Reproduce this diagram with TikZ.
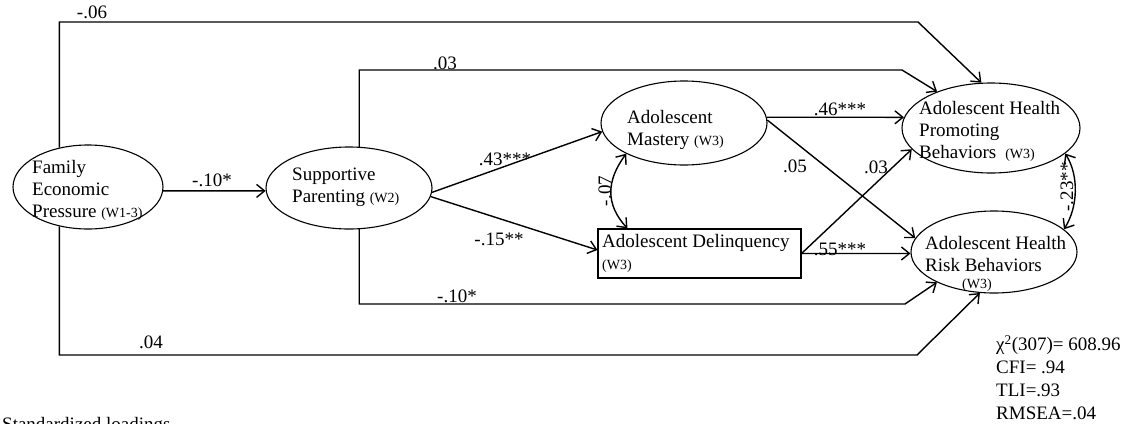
\documentclass[tikz,border=0pt]{standalone}
\usepackage{fontspec}
\setmainfont{Liberation Serif}
\usetikzlibrary{shapes.geometric,arrows.meta}
\newcommand\wlabel[1]{{\fontsize{14}{16}\selectfont(#1)}}
\begin{document}
\begin{tikzpicture}[x=1pt,y=-1pt,
  latent/.style={ellipse,draw,line width=1.1pt,inner sep=0pt},
  observed/.style={rectangle,draw,line width=1.1pt,inner sep=0pt},
  path/.style={line width=1.4pt,-{Straight Barb[length=8pt,width=13pt]}},
  cov/.style={line width=1.4pt,{Straight Barb[length=8pt,width=13pt]}-{Straight Barb[length=8pt,width=13pt]}},
  lbl/.style={inner sep=0pt,font=\fontsize{19}{22}\selectfont},
  txt/.style={inner sep=0pt,align=left,anchor=west,font=\fontsize{19}{22}\selectfont},
]
\useasboundingbox (0,0) rectangle (1132,423);

% constructs
\node[latent,minimum width=150pt,minimum height=84pt] (fep) at (88,187) {};
\node[latent,minimum width=166pt,minimum height=82pt] (sp) at (349,188) {};
\node[latent,minimum width=166pt,minimum height=84pt] (mas) at (684,123) {};
\node[observed,minimum width=203pt,minimum height=49pt] (del) at (699.5,253.5) {};
\node[latent,minimum width=178pt,minimum height=90pt] (hp) at (991,128) {};
\node[latent,minimum width=166pt,minimum height=82pt] (rb) at (994,252) {};

% construct names
\node[txt] (tfep) at (32,190) {Family\\Economic\\Pressure \wlabel{W1-3}};
\node[txt] (tsp) at (292,187) {Supportive\\Parenting \wlabel{W2}};
\node[txt] (tmas) at (627,130) {Adolescent\\Mastery \wlabel{W3}};
\node[txt] (tdel) at (602,243) {Adolescent Delinquency};
\node[txt] (tdelw) at (602,266) {\wlabel{W3}};
\node[txt] (thp) at (919,131) {Adolescent Health\\Promoting\\Behaviors\hspace{9pt}\wlabel{W3}};
\node[txt] (trb) at (925,254) {Adolescent Health\\Risk Behaviors};
\node[lbl] (trbw) at (977,285) {\wlabel{W3}};

% bends of the routed paths
\coordinate (c1) at (918,22);
\coordinate (c2) at (902,70);
\coordinate (c3) at (905,304);
\coordinate (c4) at (917,355);

% structural paths
\draw[path] (fep.126) -- (fep.126 |- c1) -- (c1) -- (hp.102);
\draw[path] (sp.76) -- (sp.76 |- c2) -- (c2) -- (hp.146);
\draw[path] (fep.357) -- (sp.182);
\draw[path] (sp.357) -- (mas.186);
\draw[path] (sp.354) -- ([yshift=3.5pt]del.west);
\draw[path] (mas.4) -- (hp.173);
\draw[path] (mas.2) -- (rb.170);
\draw[path] (del.east) -- (hp.195);
\draw[path] (del.east) -- (rb.181);
\draw[path] (sp.284) -- (sp.284 |- c3) -- (c3) -- (rb.208);
\draw[path] (fep.234) -- (fep.234 |- c4) -- (c4) -- (rb.251);

% covariances
\draw[cov] (mas.208) .. controls +(-20,27) and +(-22,-24) .. ([xshift=30pt]del.north west);
\draw[cov] (hp.341) .. controls +(14,22) and +(14,-22) .. (rb.18);

% coefficients
\node[lbl] (l1) at (92,12) {-.06};
\node[lbl] (l2) at (445,63) {.03};
\node[lbl] (l3) at (212,180) {-.10*};
\node[lbl] (l4) at (505,159) {.43***};
\node[lbl] (l5) at (499,239) {-.15**};
\node[lbl,rotate=90] (l6) at (605,191) {-.07};
\node[lbl] (l7) at (840,109) {.46***};
\node[lbl] (l8) at (795,166) {.05};
\node[lbl] (l9) at (876,167) {.03};
\node[lbl] (l10) at (840,249) {.55***};
\node[lbl,rotate=90] (l11) at (1067,187) {-.23**};
\node[lbl] (l12) at (457,296) {-.10*};
\node[lbl] (l13) at (151,342) {.04};

% fit indices
\node[txt,font=\fontsize{19}{23}\selectfont] (fit) at (996,378) {χ\textsuperscript{2}(307)= 608.96\\CFI= .94\\TLI=.93\\RMSEA=.04};

% note
\node[lbl,anchor=base west] (note) at (2,430) {Standardized loadings};
\end{tikzpicture}
\end{document}
